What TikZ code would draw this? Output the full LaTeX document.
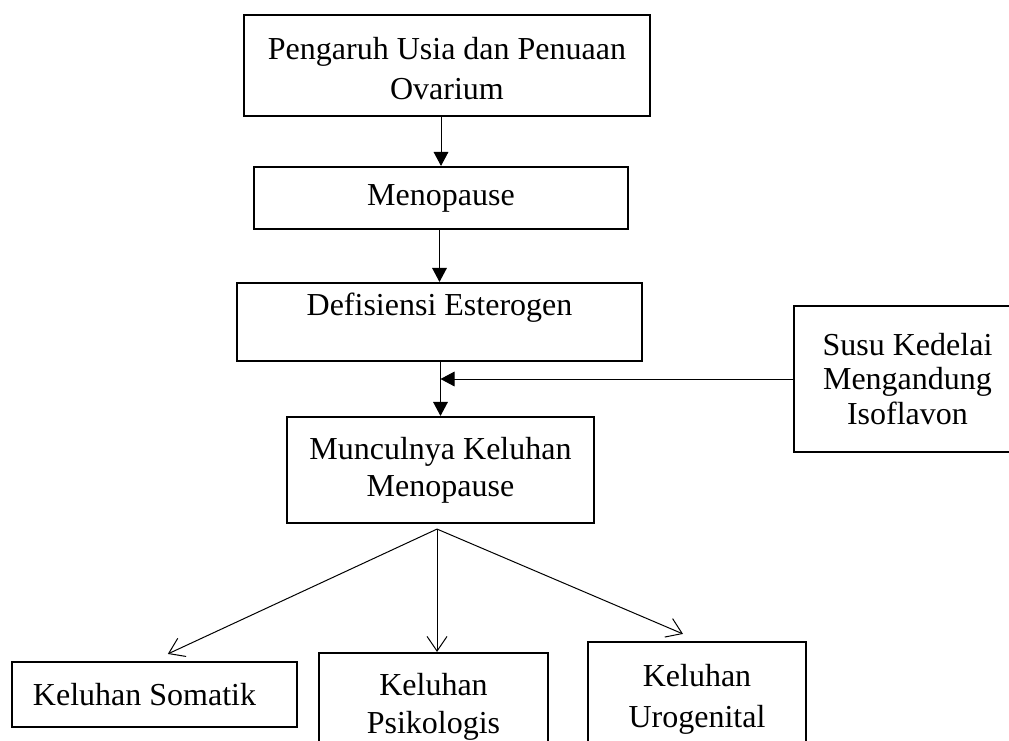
\documentclass[tikz,border=0pt]{standalone}
\usepackage{fontspec}
\setmainfont{Liberation Serif}
\usetikzlibrary{arrows.meta}

\begin{document}
\begin{tikzpicture}[x=0.75pt, y=-0.75pt,
    kotak/.style={draw, line width=1.6pt, align=center, inner sep=0pt,
        font=\fontsize{24}{26}\selectfont},
    renggang/.style={font=\fontsize{24}{#1}\selectfont},
    panah/.style={line width=0.75pt, -{Triangle[length=10.5pt, width=11pt]}},
    cabang/.style={line width=0.75pt, -{Straight Barb[length=11pt, width=15pt]}}]
            \useasboundingbox (0, 0) rectangle (1009, 740);
            \clip (0, 0) rectangle (1009, 740);

            \node [kotak, renggang=30pt, minimum width=304.5pt, minimum height=75.75pt]
                (usia) at (447, 65.5) {\rule{0pt}{21pt}Pengaruh Usia dan Penuaan\\Ovarium};
            \node [kotak, minimum width=280.5pt, minimum height=46.5pt]
                (meno) at (441, 198) {Menopause};
            \node [kotak, minimum width=303.75pt, minimum height=58.5pt, text depth=27pt]
                (defis) at (439.5, 322) {Defisiensi Esterogen};
            \node [kotak, renggang=28pt, minimum width=230.25pt, minimum height=79.5pt]
                (keluhan) at (440.5, 470) {Munculnya Keluhan\\Menopause};
            \node [kotak, minimum width=170.25pt, minimum height=109.5pt]
                (susu) at (907.5, 379) {Susu Kedelai\\Mengandung\\Isoflavon};

            \node [kotak, minimum width=213.75pt, minimum height=48.75pt]
                (somatik) at (154.5, 694.5) {Keluhan Somatik\hspace*{15pt}};
            \node [kotak, renggang=28pt, minimum width=171.75pt, minimum height=81pt]
                (psiko) at (433.5, 707) {Keluhan\\Psikologis};
            \node [kotak, renggang=31pt, minimum width=163.5pt, minimum height=86.25pt]
                (uro) at (697, 699.5) {Keluhan\\Urogenital};

            \draw [panah] (meno.north |- usia.south) -- (meno.north);
            \draw [panah] (defis.north |- meno.south) -- (defis.north);
            \draw [panah] (keluhan.north |- defis.south) -- (keluhan.north);

            \coordinate (sambung) at (keluhan.north |- susu.west);
            \draw [panah] (susu.west) -- (sambung);

            \coordinate (pangkal) at ([xshift=-2.6pt, yshift=-3.75pt]keluhan.south);
            \draw [cabang] (pangkal) -- ([xshift=10pt, yshift=5.25pt]somatik.north);
            \draw [cabang] (pangkal) -- (pangkal |- psiko.north);
            \draw [cabang] (pangkal) -- ([xshift=-10.5pt, yshift=5.25pt]uro.north);
        \end{tikzpicture}
\end{document}
